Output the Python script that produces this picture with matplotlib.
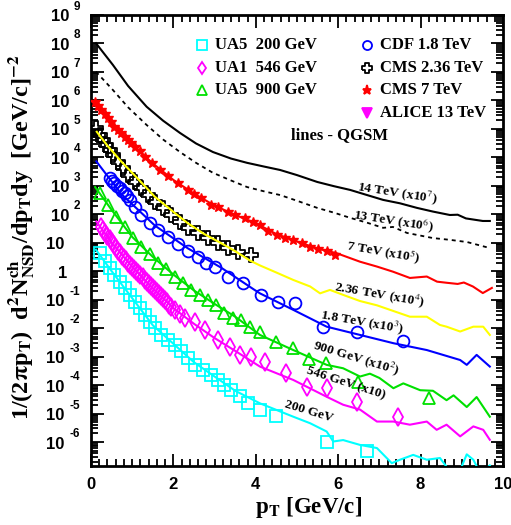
import numpy as np
import matplotlib
matplotlib.use('Agg')
import matplotlib.pyplot as plt
from matplotlib.ticker import LogLocator, MultipleLocator, NullFormatter
from matplotlib.transforms import offset_copy

# all yields are log10 of the scaled invariant yield (scale factor already applied)

# QGSM 14 TeV (x10^7)
q14_pt = [0.12, 0.53, 0.9, 1.35, 1.75, 2.16, 2.55, 2.96, 3.4, 3.79, 4.2, 4.59, 5.0, 5.49, 5.9,
          6.29, 6.7, 7.09, 7.5, 7.91, 8.3, 8.71, 8.9, 9.1, 9.51, 9.68]
q14_lg = [8.0, 7.24, 6.5, 5.77, 5.28, 4.85, 4.48, 4.18, 3.95, 3.8, 3.67, 3.55, 3.37, 3.13, 2.98,
          2.85, 2.67, 2.5, 2.38, 2.22, 2.09, 1.97, 1.98, 1.85, 1.76, 1.76]

# QGSM 13 TeV (x10^6)
q13_pt = [0.12, 0.53, 0.9, 1.35, 1.75, 2.16, 2.55, 2.96, 3.4, 3.79, 4.2, 4.59, 5.0, 5.49, 5.9,
          6.29, 6.7, 7.09, 7.33, 7.67, 8.3, 8.7, 9.13, 9.68]
q13_lg = [7.0, 6.36, 5.75, 5.13, 4.62, 4.18, 3.8, 3.45, 3.18, 2.95, 2.8, 2.67, 2.47, 2.22, 2.05,
          1.87, 1.7, 1.52, 1.55, 1.34, 1.16, 1.1, 1.02, 0.81]

# CMS 7 TeV (x10^5)
cms7_pt = [0.1, 0.18, 0.25, 0.33, 0.41, 0.49, 0.57, 0.65, 0.74, 0.82, 0.9, 0.98, 1.06, 1.18, 1.3,
           1.48, 1.67, 1.87, 2.11, 2.35, 2.51, 2.67, 2.91, 3.08, 3.32, 3.49, 3.73, 3.93, 4.1, 4.3,
           4.51, 4.71, 4.91, 5.11, 5.32, 5.52, 5.72, 5.92]
cms7_lg = [5.95, 5.8, 5.66, 5.52, 5.37, 5.22, 5.07, 4.95, 4.84, 4.72, 4.6, 4.48, 4.37, 4.2, 4.02,
           3.78, 3.55, 3.34, 3.08, 2.85, 2.7, 2.56, 2.32, 2.26, 2.09, 1.97, 1.86, 1.74, 1.62, 1.42,
           1.27, 1.15, 1.09, 0.98, 0.86, 0.78, 0.71, 0.57]
q7_pt = [0.1, 0.5, 1.0, 1.5, 2.0, 2.5, 3.0, 3.5, 4.0, 4.5, 5.0, 5.5, 5.96, 6.53, 6.94, 7.33, 7.74,
         8.15, 8.4, 8.64, 8.9, 9.05, 9.27, 9.51, 9.73]
q7_lg = [5.95, 5.2, 4.45, 3.78, 3.2, 2.72, 2.3, 1.97, 1.68, 1.3, 1.04, 0.79, 0.63, 0.33, 0.16, -0.02,
         -0.24, -0.19, -0.37, -0.41, -0.45, -0.4, -0.54, -0.77, -0.59]

# CMS 2.36 TeV (x10^4)
cms236_pt = [0.13, 0.21, 0.29, 0.37, 0.45, 0.53, 0.65, 0.78, 0.9, 1.06, 1.22, 1.38, 1.55, 1.75, 1.95,
             2.15, 2.35, 2.6, 2.84, 3.08, 3.32, 3.57, 3.89]
cms236_lg = [5.01, 4.78, 4.6, 4.43, 4.25, 4.08, 3.84, 3.61, 3.38, 3.14, 2.91, 2.67, 2.44, 2.21, 1.97,
             1.74, 1.51, 1.33, 1.16, 0.98, 0.8, 0.68, 0.57]
q236_pt = [0.14, 0.4, 0.74, 1.1, 1.55, 2.0, 2.35, 2.75, 3.16, 3.5, 3.86, 4.1, 4.5, 4.91, 5.32, 5.56,
           5.8, 6.15, 6.53, 6.94, 7.34, 7.74, 8.15, 8.47, 8.63, 8.96, 9.28, 9.52, 9.68]
q236_lg = [4.89, 4.4, 3.84, 3.3, 2.61, 2.08, 1.68, 1.3, 0.98, 0.7, 0.37, 0.2, -0.05, -0.31, -0.54, -0.78,
           -0.66, -0.85, -1.05, -1.2, -1.4, -1.6, -1.6, -1.89, -1.95, -2.12, -1.95, -1.95, -2.24]

# CDF 1.8 TeV (x10^3)
cdf_pt = [0.45, 0.51, 0.57, 0.63, 0.7, 0.76, 0.82, 0.88, 0.94, 1.06, 1.22, 1.42, 1.63, 1.87, 2.11,
          2.35, 2.6, 2.8, 3.0, 3.33, 3.69, 4.13, 4.54, 4.95, 5.64, 6.46, 7.58]
cdf_lg = [3.26, 3.17, 3.08, 3.0, 2.91, 2.82, 2.73, 2.62, 2.5, 2.26, 1.97, 1.68, 1.44, 1.21, 0.95,
          0.71, 0.48, 0.3, 0.16, -0.19, -0.42, -0.83, -1.09, -1.13, -1.95, -2.12, -2.47]
q18_pt = [0.13, 0.74, 1.55, 2.35, 3.16, 3.97, 4.1, 4.91, 5.72, 6.53, 7.34, 8.15, 8.96, 9.12, 9.36, 9.68]
q18_lg = [3.85, 2.7, 1.6, 0.8, 0.12, -0.66, -0.78, -1.36, -1.95, -2.24, -2.53, -2.77, -3.12, -3.29,
          -2.94, -3.35]

# UA5 900 GeV (x10^2)
ua5900_pt = [0.21, 0.41, 0.61, 0.82, 1.02, 1.22, 1.42, 1.63, 1.83, 2.03, 2.23, 2.43, 2.64, 2.84,
             3.04, 3.24, 3.45, 3.65, 3.85, 4.09, 4.49, 4.9, 5.3, 5.7, 6.49, 8.21]
ua5900_lg = [2.73, 2.32, 1.91, 1.56, 1.15, 0.86, 0.6, 0.3, 0.07, -0.19, -0.42, -0.66, -0.83, -1.01,
             -1.19, -1.48, -1.65, -1.71, -1.95, -2.12, -2.5, -2.71, -3.09, -3.23, -3.88, -4.46]
q900_pt = [0.1, 0.5, 1.0, 1.5, 2.0, 2.5, 3.0, 3.5, 4.1, 4.91, 5.72, 6.12, 6.53, 6.77, 7.0, 7.34,
           7.58, 7.99, 8.3, 8.63, 8.8, 9.12, 9.36, 9.68]
q900_lg = [2.95, 2.15, 1.2, 0.5, -0.12, -0.68, -1.15, -1.6, -2.24, -2.77, -3.29, -3.41, -3.7, -3.6,
           -3.75, -4.11, -3.94, -4.18, -4.2, -4.53, -4.36, -4.77, -4.42, -5.11]

# UA1 546 GeV (x10)
ua1_pt = [0.25, 0.3, 0.35, 0.4, 0.45, 0.5, 0.55, 0.6, 0.65, 0.7, 0.75, 0.8, 0.85, 0.9, 0.95, 1.0,
          1.05, 1.1, 1.15, 1.2, 1.25, 1.3, 1.35, 1.4, 1.45, 1.5, 1.55, 1.6, 1.65, 1.7, 1.75, 1.8,
          1.85, 1.9, 1.95, 2.05, 2.15, 2.27, 2.52, 2.76, 3.08, 3.37, 3.61, 3.89, 4.22, 4.73, 5.24,
          5.74, 6.45, 7.46]
ua1_lg = [1.56, 1.45, 1.35, 1.23, 1.12, 1.02, 0.92, 0.82, 0.72, 0.63, 0.54, 0.46, 0.38, 0.3, 0.22,
          0.15, 0.08, 0.01, -0.06, -0.14, -0.22, -0.3, -0.38, -0.45, -0.53, -0.6, -0.68, -0.75,
          -0.82, -0.89, -0.96, -1.03, -1.1, -1.18, -1.25, -1.38, -1.52, -1.65, -1.77, -2.06, -2.41,
          -2.65, -2.94, -3.0, -3.18, -3.58, -4.05, -4.11, -4.6, -5.11]
q546_pt = [0.13, 0.5, 1.0, 1.5, 2.0, 2.5, 3.0, 3.5, 4.1, 4.91, 5.72, 6.12, 6.53, 6.94, 7.34, 7.74,
           8.15, 8.39, 8.63, 8.96, 9.28, 9.52, 9.68]
q546_lg = [1.74, 1.0, 0.15, -0.6, -1.3, -1.85, -2.35, -2.8, -3.35, -3.82, -4.41, -4.69, -4.86, -5.28,
           -5.28, -5.39, -5.28, -5.57, -5.39, -5.8, -5.45, -5.57, -5.92]

# UA5 200 GeV
ua5200_pt = [0.21, 0.33, 0.45, 0.57, 0.7, 0.82, 0.94, 1.06, 1.18, 1.3, 1.42, 1.55, 1.71, 1.87, 2.03,
             2.19, 2.35, 2.52, 2.72, 2.92, 3.08, 3.24, 3.41, 3.61, 3.81, 4.09, 4.5, 5.72, 6.71]
ua5200_lg = [0.63, 0.36, 0.1, -0.13, -0.37, -0.6, -0.83, -1.07, -1.3, -1.54, -1.77, -2.0, -2.24,
             -2.41, -2.59, -2.82, -3.06, -3.29, -3.47, -3.64, -3.82, -3.99, -4.17, -4.4, -4.64,
             -4.87, -5.1, -6.0, -6.31]
q200_pt = [0.12, 0.5, 1.0, 1.5, 2.0, 2.5, 3.0, 3.5, 4.1, 4.91, 5.32, 5.72, 5.88, 6.12, 6.53, 6.94,
           7.3, 7.5, 7.82, 8.15, 8.47, 8.7, 8.9, 9.12, 9.28, 9.45, 9.68]
q200_lg = [0.75, 0.0, -0.95, -1.9, -2.55, -3.2, -3.7, -4.2, -4.64, -5.11, -5.34, -5.63, -5.98, -5.93,
           -6.1, -6.21, -6.74, -6.62, -6.45, -6.62, -6.56, -7.0, -7.2, -6.43, -6.62, -7.1, -6.82]

y_exps = list(range(-6, 10))

CYAN, MAGENTA, GREEN, BLUE, YELLOW, RED = '#00ffff', '#ff00ff', '#00e000', '#0000ff', '#ffff00', '#ff0000'
serif = 'Liberation Serif'
sans = 'Liberation Sans'

# open cross marker (ROOT style)
a = 0.34
cross = [(-1, -a), (-a, -a), (-a, -1), (a, -1), (a, -a), (1, -a), (1, a), (a, a), (a, 1), (-a, 1),
         (-a, a), (-1, a), (-1, -a)]


def yv(lg):
    return 10.0 ** np.asarray(lg)


fig = plt.figure(figsize=(5.11, 5.25), dpi=100)
ax = fig.add_axes([91 / 511, 1 - 466 / 525, 412 / 511, 451.3 / 525])
ax.set_yscale('log')

mk = dict(ls='none', mew=1.3, zorder=3)
ax.plot(ua5200_pt, yv(ua5200_lg), marker='s', ms=8, mfc='none', mec=CYAN, **mk)
ax.plot(ua1_pt, yv(ua1_lg), marker='d', ms=9, mfc='none', mec=MAGENTA, **mk)
ax.plot(ua5900_pt, yv(ua5900_lg), marker='^', ms=9, mfc='none', mec=GREEN, **mk)
ax.plot(cdf_pt, yv(cdf_lg), marker='o', ms=8.5, mfc='none', mec=BLUE, **mk)
ax.plot(cms236_pt, yv(cms236_lg), marker=cross, ms=10, mfc='none', mec='black', **mk)
ax.plot(cms7_pt, yv(cms7_lg), marker='*', ms=7, mfc=RED, mec=RED, ls='none', mew=1, zorder=3)

lw = 1.5
ax.plot(q14_pt, yv(q14_lg), color='black', lw=lw, zorder=4)
ax.plot(q13_pt, yv(q13_lg), color='black', lw=1.3, ls=(0, (2.2, 2.2)), zorder=4)
ax.plot(q7_pt, yv(q7_lg), color=RED, lw=lw, zorder=2)
ax.plot(q236_pt, yv(q236_lg), color=YELLOW, lw=lw, zorder=4)
ax.plot(q18_pt, yv(q18_lg), color=BLUE, lw=lw, zorder=4)
ax.plot(q900_pt, yv(q900_lg), color=GREEN, lw=lw, zorder=4)
ax.plot(q546_pt, yv(q546_lg), color=MAGENTA, lw=lw, zorder=4)
ax.plot(q200_pt, yv(q200_lg), color=CYAN, lw=lw, zorder=4)

ax.set_xlim(0, 10)
ax.set_ylim(10 ** -6.84, 1e9)

# curve labels
labels = [
    (7.45, 2.74, '14 TeV (x10$^{7}$)', -9),
    (7.35, 1.76, '13 TeV (x10$^{6}$)', -9),
    (7.09, 0.67, '7 TeV (x10$^{5}$)', -10),
    (6.99, -0.83, '2.36 TeV (x10$^{4}$)', -10),
    (6.58, -1.78, '1.8 TeV (x10$^{3}$)', -10),
    (6.43, -3.04, '900 GeV (x10$^{2}$)', -17),
    (6.19, -3.95, '546 GeV (x10)', -18),
    (5.29, -4.93, '200 GeV', -17),
]
for x, lg, s, rot in labels:
    ax.text(x, 10 ** lg, s, rotation=rot, ha='center', va='center', rotation_mode='anchor',
            family=serif, weight='bold', fontsize=9.7, math_fontfamily='stix')

# legend
tr = ax.transAxes
leg_left = [('s', CYAN, 'none', 'UA5  200 GeV'),
            ('d', MAGENTA, 'none', 'UA1  546 GeV'),
            ('^', GREEN, 'none', 'UA5  900 GeV')]
leg_right = [('o', BLUE, 'none', 'CDF 1.8 TeV'),
             (cross, 'black', 'none', 'CMS 2.36 TeV'),
             ('*', RED, RED, 'CMS 7 TeV'),
             ('v', MAGENTA, MAGENTA, 'ALICE 13 TeV')]
rows = [0.933, 0.882, 0.834, 0.782]
for (m, c, fc, s), yy in zip(leg_left, rows):
    ax.plot([0.269], [yy], marker=m, ms=6.5, mfc=fc, mec=c, mew=1.3, transform=tr, clip_on=False)
    ax.text(0.301, yy, s, transform=tr, va='center', family=serif, weight='bold', fontsize=12)
for (m, c, fc, s), yy in zip(leg_right, rows):
    ax.plot([0.669], [yy], marker=m, ms=6.5, mfc=fc, mec=c, mew=1.3, transform=tr, clip_on=False)
    ax.text(0.701, yy, s, transform=tr, va='center', family=serif, weight='bold', fontsize=12)
ax.text(0.604, 0.734, 'lines - QGSM', transform=tr, ha='center', va='center',
        family=serif, weight='bold', fontsize=12)

# ticks
ax.yaxis.set_major_locator(LogLocator(base=10, numticks=30))
ax.yaxis.set_minor_locator(LogLocator(base=10, subs=np.arange(2, 10), numticks=30))
ax.yaxis.set_major_formatter(NullFormatter())
ax.yaxis.set_minor_formatter(NullFormatter())
ax.xaxis.set_major_locator(MultipleLocator(2))
ax.xaxis.set_minor_locator(MultipleLocator(0.2))
ax.tick_params(which='both', direction='in', top=True, right=True, width=1.3)
ax.tick_params(which='major', length=9, labelsize=12, pad=8)
ax.tick_params(which='minor', length=5)
for lab in ax.get_xticklabels():
    lab.set_family(sans)
    lab.set_weight('bold')
for sp in ax.spines.values():
    sp.set_linewidth(2)

# y tick labels written as "10" plus a raised exponent
ytr = ax.get_yaxis_transform()
for e in y_exps:
    if e == 0:
        base, xr = '1', 67
    elif e == 1:
        base, xr = '10', 64
    elif e > 0:
        base, xr = '10', 69
    else:
        base, xr = '10', 64
    t = offset_copy(ytr, fig=fig, x=xr - 91, y=-2, units='dots')
    ax.text(0, 10.0 ** e, base, transform=t, ha='right', va='center', family=sans,
            weight='bold', fontsize=12, clip_on=False)
    if e > 1 or e < 0:
        t2 = offset_copy(ytr, fig=fig, x=(74 if e > 0 else 70) - 91, y=8, units='dots')
        ax.text(0, 10.0 ** e, str(e), transform=t2, ha='left', va='center', family=sans,
                weight='bold', fontsize=8.5, clip_on=False)

fig.text(309 / 511, 1 - 507 / 525, r'p$_{\mathbf{T}}$ [GeV/c]', ha='center', va='center',
         family=serif, weight='bold', fontsize=16.5, math_fontfamily='stix')
fig.text(22 / 511, 1 - 237 / 525,
         r'1/(2$\mathbf{\pi}$p$_{\mathbf{T}}$)  d$^{\mathbf{2}}$N$^{\mathbf{ch}}_{\mathbf{NSD}}$/dp$_{\mathbf{T}}$dy  [GeV/c]$^{\mathbf{-2}}$',
         rotation=90, ha='center', va='center', family=serif, weight='bold', fontsize=17.5,
         math_fontfamily='stix')

fig.savefig('out.png', dpi=100)
